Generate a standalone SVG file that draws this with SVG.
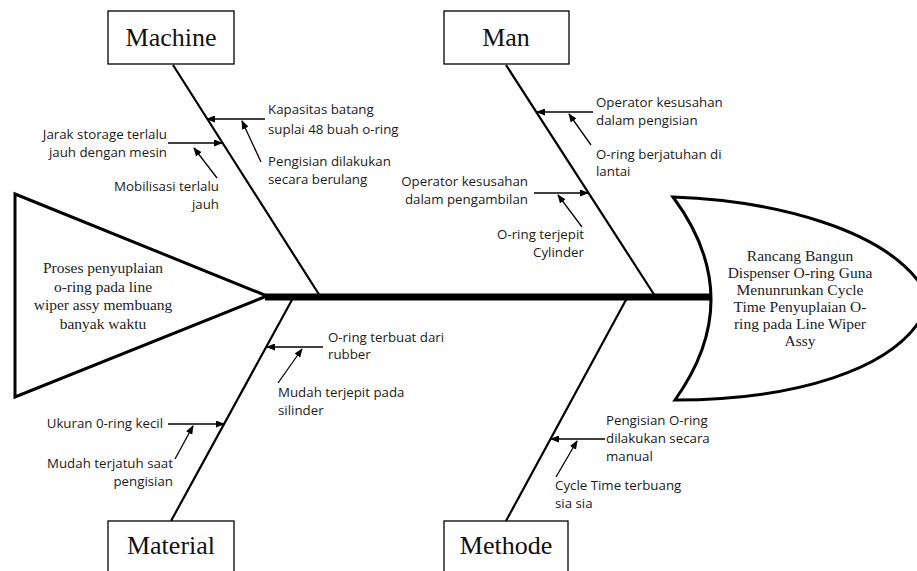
<svg xmlns="http://www.w3.org/2000/svg" width="917" height="571" viewBox="0 0 917 571">
<style>
.box{fill:#fff;stroke:#000;stroke-width:1.3}
.bt{font-family:"Liberation Serif","Times New Roman",serif;font-size:26px;fill:#111;text-anchor:middle}
.st{font-family:"Liberation Serif","Times New Roman",serif;font-size:15.5px;fill:#222;text-anchor:middle}
.lb{font-family:"Open Sans","DejaVu Sans",sans-serif;font-size:13.3px;fill:#1a1a1a}
.r{text-anchor:end}
.bone{stroke:#000;stroke-width:2.2;fill:none}
.ar{stroke:#000;stroke-width:1.3;fill:none;marker-end:url(#ah)}
.shape{fill:#fff;stroke:#000;stroke-width:3;stroke-linejoin:miter}
</style>
<defs>
<marker id="ah" markerUnits="userSpaceOnUse" markerWidth="9" markerHeight="7" refX="8" refY="3.5" orient="auto">
<path d="M0,0 L9,3.5 L0,7 Z" fill="#000"/>
</marker>
</defs>
<rect width="917" height="571" fill="#fff"/>

<g id="tail">
<path class="shape" d="M15,194 L267,296 L15,397 Z"/>
<text class="st" x="103" y="273">Proses penyuplaian</text>
<text class="st" x="103" y="291.5">o-ring pada line</text>
<text class="st" x="103" y="310">wiper assy membuang</text>
<text class="st" x="103" y="328.5">banyak waktu</text>
</g>

<g id="connectors">
<line x1="265" y1="297" x2="712" y2="297" stroke="#000" stroke-width="7"/>
<line class="bone" x1="173" y1="65" x2="320" y2="296"/>
<line class="bone" x1="506" y1="65" x2="655" y2="296"/>
<line class="bone" x1="293" y1="298" x2="171" y2="521"/>
<line class="bone" x1="627" y1="298" x2="506" y2="521"/>
<line class="ar" x1="265" y1="119" x2="207" y2="119"/>
<line class="ar" x1="261" y1="162" x2="242" y2="121"/>
<line class="ar" x1="168" y1="143" x2="222" y2="143"/>
<line class="ar" x1="217" y1="178" x2="194" y2="148"/>
<line class="ar" x1="593" y1="112" x2="537" y2="112"/>
<line class="ar" x1="591" y1="145" x2="569" y2="114"/>
<line class="ar" x1="534" y1="193" x2="588" y2="193"/>
<line class="ar" x1="582" y1="227" x2="558" y2="195"/>
<line class="ar" x1="323" y1="347" x2="267" y2="347"/>
<line class="ar" x1="278" y1="383" x2="302" y2="349"/>
<line class="ar" x1="168" y1="424" x2="224" y2="424"/>
<line class="ar" x1="175" y1="459" x2="193" y2="426"/>
<line class="ar" x1="605" y1="439" x2="551" y2="439"/>
<line class="ar" x1="556" y1="477" x2="577" y2="441"/>
</g>

<g id="head">
<path class="shape" d="M673,197 C760,200 895,225 930,300 C905,375 780,400 675,400 Q748,298 673,197 Z"/>
<text class="st" x="800" y="261">Rancang Bangun</text>
<text class="st" x="800" y="278">Dispenser O-ring Guna</text>
<text class="st" x="800" y="295">Menunrunkan Cycle</text>
<text class="st" x="800" y="312">Time Penyuplaian O-</text>
<text class="st" x="800" y="329">ring pada Line Wiper</text>
<text class="st" x="800" y="346">Assy</text>
</g>

<g id="machine">
<rect class="box" x="108" y="11" width="126" height="53"/>
<text class="bt" x="171" y="46">Machine</text>
</g>
<g id="man">
<rect class="box" x="444" y="11" width="125" height="53"/>
<text class="bt" x="506" y="46">Man</text>
</g>
<g id="material">
<rect class="box" x="108" y="521" width="126" height="60"/>
<text class="bt" x="171" y="554">Material</text>
</g>
<g id="methode">
<rect class="box" x="444" y="521" width="124" height="60"/>
<text class="bt" x="506" y="554">Methode</text>
</g>

<g id="machine-causes">
<text class="lb" x="268" y="114">Kapasitas batang</text>
<text class="lb" x="268" y="134">suplai 48 buah o-ring</text>
<text class="lb" x="268" y="166">Pengisian dilakukan</text>
<text class="lb" x="268" y="184">secara berulang</text>
<text class="lb r" x="167" y="139">Jarak storage terlalu</text>
<text class="lb r" x="167" y="157">jauh dengan mesin</text>
<text class="lb r" x="219" y="191">Mobilisasi terlalu</text>
<text class="lb r" x="219" y="209">jauh</text>
</g>
<g id="man-causes">
<text class="lb" x="596" y="107">Operator kesusahan</text>
<text class="lb" x="596" y="125">dalam pengisian</text>
<text class="lb" x="596" y="159">O-ring berjatuhan di</text>
<text class="lb" x="596" y="176">lantai</text>
<text class="lb r" x="528" y="186">Operator kesusahan</text>
<text class="lb r" x="528" y="204">dalam pengambilan</text>
<text class="lb r" x="584" y="239">O-ring terjepit</text>
<text class="lb r" x="584" y="257">Cylinder</text>
</g>
<g id="material-causes">
<text class="lb" x="328" y="342">O-ring terbuat dari</text>
<text class="lb" x="328" y="359">rubber</text>
<text class="lb" x="278" y="397">Mudah terjepit pada</text>
<text class="lb" x="278" y="415">silinder</text>
<text class="lb r" x="163" y="428">Ukuran 0-ring kecil</text>
<text class="lb r" x="173" y="468">Mudah terjatuh saat</text>
<text class="lb r" x="173" y="486">pengisian</text>
</g>
<g id="methode-causes">
<text class="lb" x="606" y="425">Pengisian O-ring</text>
<text class="lb" x="606" y="443">dilakukan secara</text>
<text class="lb" x="606" y="461">manual</text>
<text class="lb" x="555" y="490">Cycle Time terbuang</text>
<text class="lb" x="555" y="508">sia sia</text>
</g>
</svg>
